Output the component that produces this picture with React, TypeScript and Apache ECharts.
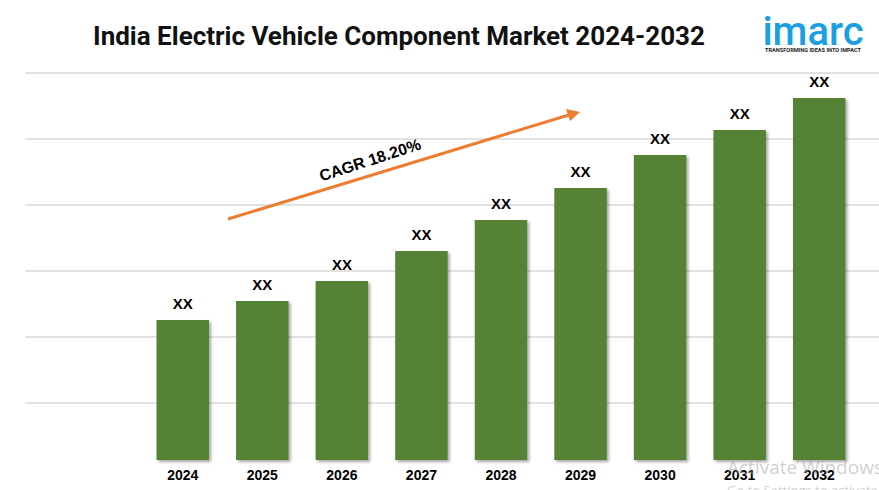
import React, { useEffect, useRef } from "react";
import * as echarts from "echarts";

const years = ["2024", "2025", "2026", "2027", "2028", "2029", "2030", "2031", "2032"];
const values = [140, 159, 179, 209, 240, 272, 305, 330, 362];
const barLabels = ["XX", "XX", "XX", "XX", "XX", "XX", "XX", "XX", "XX"];
const titleText = "India Electric Vehicle Component Market 2024-2032";
const cagrText = "CAGR 18.20%";

export default function App() {
  const ref = useRef<HTMLDivElement>(null);
  useEffect(() => {
    if (!ref.current) return;
    const chart = echarts.init(ref.current, undefined, { renderer: "svg" });
    chart.setOption({
      animation: false,
      backgroundColor: "#ffffff",
      grid: [
        { left: 143, right: 20, top: 73, bottom: 30 },
        { left: 25, right: 0, top: 73, bottom: 21 },
      ],
      xAxis: [
        {
          type: "category",
          gridIndex: 0,
          data: years,
          axisLine: { show: false },
          axisTick: { show: false },
          axisLabel: {
            color: "#000",
            fontWeight: "bold",
            fontSize: 14,
            fontFamily: "Liberation Sans",
            margin: 8,
          },
        },
        { type: "value", gridIndex: 1, show: false, min: 0, max: 1 },
      ],
      yAxis: [
        { type: "value", gridIndex: 0, min: 0, max: 387, show: false, splitLine: { show: false } },
        {
          type: "value",
          gridIndex: 1,
          min: 0,
          max: 396,
          interval: 66,
          axisLine: { show: false },
          axisTick: { show: false },
          axisLabel: { show: false },
          splitLine: { show: true, showMinLine: false, lineStyle: { color: "#d9d9d9", width: 1.5 } },
        },
      ],
      series: [
        {
          type: "bar",
          xAxisIndex: 0,
          yAxisIndex: 0,
          data: values,
          barCategoryGap: "34%",
          z: 5,
          itemStyle: {
            color: "#548235",
            shadowColor: "rgba(0,0,0,0.35)",
            shadowBlur: 3,
            shadowOffsetX: 2,
            shadowOffsetY: 2,
          },
          label: {
            show: true,
            position: "top",
            distance: 9,
            formatter: (p: any) => barLabels[p.dataIndex],
            color: "#000",
            fontWeight: "bold",
            fontSize: 15,
            fontFamily: "Liberation Sans",
          },
        },
      ],
      graphic: [
        {
          type: "text",
          style: {
            text: titleText,
            x: 399,
            y: 36,
            align: "center",
            verticalAlign: "middle",
            fill: "#111",
            font: "bold 26px Roboto",
          },
        },
        {
          type: "text",
          style: {
            text: "imarc",
            x: 813,
            y: 31,
            align: "center",
            verticalAlign: "middle",
            fill: "#1a9fe3",
            font: "500 40px Roboto",
          },
        },
        {
          type: "text",
          style: {
            text: "TRANSFORMING IDEAS INTO IMPACT",
            x: 813,
            y: 50,
            align: "center",
            verticalAlign: "middle",
            fill: "#222",
            font: "bold 5.6px Roboto",
          },
        },
        {
          type: "line",
          shape: { x1: 228, y1: 219, x2: 572, y2: 114 },
          style: { stroke: "#ed7d31", lineWidth: 3 },
          z: 10,
        },
        {
          type: "polygon",
          shape: { points: [[580, 112], [566, 109], [570, 121]] },
          style: { fill: "#ed7d31" },
          z: 10,
        },
        {
          type: "text",
          x: 370,
          y: 160,
          rotation: (18 * Math.PI) / 180,
          style: {
            text: cagrText,
            x: 0,
            y: 0,
            align: "center",
            verticalAlign: "middle",
            fill: "#000",
            font: "bold 16px 'Liberation Sans'",
          },
          z: 10,
        },
        {
          type: "text",
          style: {
            text: "Activate Windows",
            x: 727,
            y: 467,
            verticalAlign: "middle",
            fill: "rgba(160,160,160,0.5)",
            font: "19px 'Open Sans'",
          },
          z: 20,
        },
        {
          type: "text",
          style: {
            text: "Go to Settings to activate Windows.",
            x: 727,
            y: 490,
            verticalAlign: "middle",
            fill: "rgba(160,160,160,0.5)",
            font: "13px 'Open Sans'",
          },
          z: 20,
        },
      ],
    });
    return () => chart.dispose();
  }, []);
  return <div ref={ref} style={{ width: 879, height: 490, position: "absolute", left: 0, top: 0 }} />;
}
